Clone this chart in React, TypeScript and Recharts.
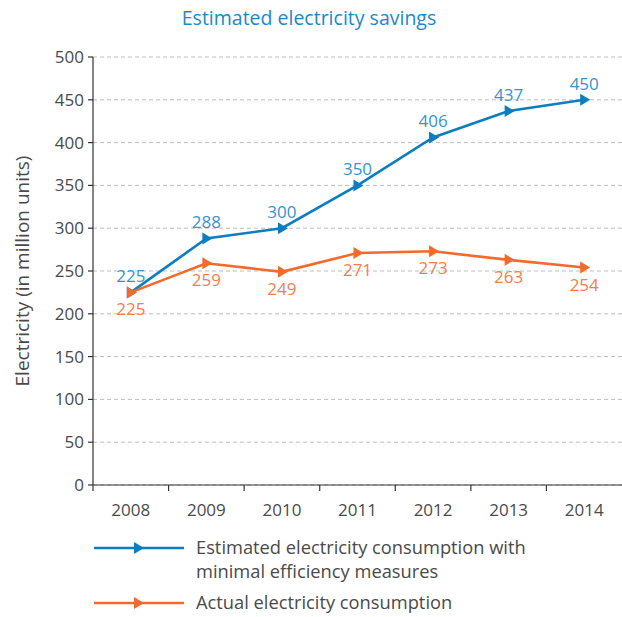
import React from 'react';
import { LineChart, Line, XAxis, YAxis, CartesianGrid, LabelList } from 'recharts';

const years = ['2008', '2009', '2010', '2011', '2012', '2013', '2014'];
const estimated = [225, 288, 300, 350, 406, 437, 450];
const actual = [225, 259, 249, 271, 273, 263, 254];
const yTicks = [0, 50, 100, 150, 200, 250, 300, 350, 400, 450, 500];
const titleText = 'Estimated electricity savings';
const yLabelText = 'Electricity (in million units)';
const legendEstimated = ['Estimated electricity consumption with', 'minimal efficiency measures'];
const legendActual = 'Actual electricity consumption';

const data = years.map((year, i) => ({ year, estimated: estimated[i], actual: actual[i] }));

const BLUE = '#0b7dc1';
const BLUE_LABEL = '#3593d3';
const ORANGE = '#f26b2c';
const ORANGE_LABEL = '#f47d4f';
const TEXT = '#4a4a4a';
const FONT = '"Open Sans", sans-serif';

const W = 622;
const H = 617;
const PLOT_LEFT = 93;
const PLOT_RIGHT = 622;
const BAND = (PLOT_RIGHT - PLOT_LEFT) / years.length;

const makeDot = (color: string) => (props: any) => {
  const { cx, cy, index } = props;
  if (cx == null || cy == null) return <g key={index} />;
  return (
    <path
      key={index}
      d={`M${cx - 4},${cy - 6} L${cx + 6},${cy} L${cx - 4},${cy + 6} Z`}
      fill={color}
    />
  );
};

const XTick = (props: any) => {
  const { x, y, payload } = props;
  const half = payload && typeof payload.offset === 'number' && payload.offset > 0 ? payload.offset : BAND / 2;
  const bx = x - half;
  return (
    <g>
      <line x1={bx} x2={bx} y1={y} y2={y + 6} stroke="#333" strokeWidth={1.2} />
      <text x={x} y={y + 31} textAnchor="middle" fill={TEXT} fontSize={17} fontFamily={FONT}>
        {payload.value}
      </text>
    </g>
  );
};

const LegendMark = ({ color }: { color: string }) => (
  <svg width={92} height={14} style={{ display: 'block' }}>
    <line x1={1} x2={91} y1={7} y2={7} stroke={color} strokeWidth={2.5} />
    <path d="M41,1 L51,7 L41,13 Z" fill={color} />
  </svg>
);

export default function App() {
  return (
    <div
      style={{
        position: 'absolute',
        left: 0,
        top: 0,
        width: W,
        height: H,
        overflow: 'hidden',
        background: '#fff',
        fontFamily: FONT,
      }}
    >
      <div
        style={{
          position: 'absolute',
          left: 0,
          top: 4,
          width: 618,
          textAlign: 'center',
          color: '#1c88cc',
          fontSize: 19.5,
          lineHeight: '28px',
        }}
      >
        {titleText}
      </div>
      <LineChart
        width={W}
        height={H}
        data={data}
        margin={{ top: 57, right: W - PLOT_RIGHT, bottom: H - 485 - 30, left: 0 }}
      >
        <CartesianGrid horizontal vertical={false} stroke="#bdbdbd" strokeDasharray="4 3" />
        <XAxis
          dataKey="year"
          scale="band"
          height={30}
          stroke="#333"
          strokeWidth={1.2}
          tickSize={0}
          tickMargin={0}
          tickLine={false}
          tick={<XTick />}
          interval={0}
        />
        <YAxis
          width={PLOT_LEFT}
          domain={[0, 500]}
          ticks={yTicks}
          interval={0}
          stroke="#333"
          strokeWidth={1.2}
          tickSize={5}
          tickMargin={4}
          tick={{ fill: TEXT, fontSize: 17, fontFamily: FONT }}
          label={{
            value: yLabelText,
            angle: -90,
            position: 'insideLeft',
            offset: 22,
            style: { textAnchor: 'middle', fill: TEXT, fontSize: 19, fontFamily: FONT },
          }}
        />
        <Line
          dataKey="estimated"
          stroke={BLUE}
          strokeWidth={2.6}
          dot={makeDot(BLUE)}
          activeDot={false}
          isAnimationActive={false}
        >
          <LabelList
            dataKey="estimated"
            position="top"
            offset={10}
            fill={BLUE_LABEL}
            fontSize={17}
            fontFamily={FONT}
          />
        </Line>
        <Line
          dataKey="actual"
          stroke={ORANGE}
          strokeWidth={2.6}
          dot={makeDot(ORANGE)}
          activeDot={false}
          isAnimationActive={false}
        >
          <LabelList
            dataKey="actual"
            position="bottom"
            offset={11}
            fill={ORANGE_LABEL}
            fontSize={17}
            fontFamily={FONT}
          />
        </Line>
      </LineChart>
      <div
        style={{
          position: 'absolute',
          left: 93,
          top: 535,
          color: TEXT,
          fontSize: 18.3,
          lineHeight: '24px',
        }}
      >
        <div style={{ display: 'flex', alignItems: 'flex-start' }}>
          <div style={{ marginTop: 6 }}>
            <LegendMark color={BLUE} />
          </div>
          <div style={{ marginLeft: 11 }}>
            <div>{legendEstimated[0]}</div>
            <div>{legendEstimated[1]}</div>
          </div>
        </div>
        <div style={{ display: 'flex', alignItems: 'flex-start', marginTop: 7 }}>
          <div style={{ marginTop: 6 }}>
            <LegendMark color={ORANGE} />
          </div>
          <div style={{ marginLeft: 11 }}>{legendActual}</div>
        </div>
      </div>
    </div>
  );
}
